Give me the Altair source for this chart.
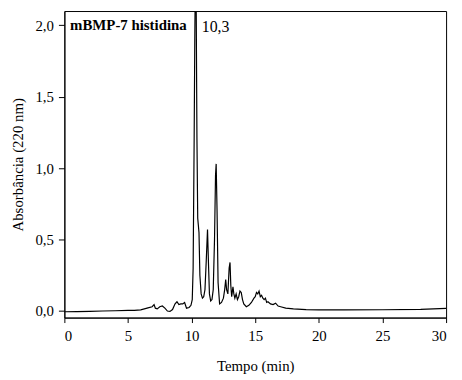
import altair as alt
import pandas as pd

# Retention time (min) and absorbance (220 nm)
tempo = [0, 1, 2, 3, 4, 5, 5.5, 6, 6.5, 6.9, 7.05, 7.15, 7.3, 7.5, 7.7, 7.9, 8.1, 8.3, 8.5,
         8.7, 8.85, 9.0, 9.15, 9.3, 9.45, 9.6, 9.8, 9.95, 10.05, 10.12, 10.2, 10.25, 10.3,
         10.35, 10.42, 10.48, 10.53, 10.58, 10.65, 10.75, 10.85, 10.95, 11.05, 11.15, 11.25,
         11.32, 11.4, 11.5, 11.6, 11.7, 11.8, 11.88, 11.93, 12.0, 12.08, 12.2, 12.35, 12.5,
         12.6, 12.68, 12.75, 12.85, 12.95, 13.02, 13.08, 13.15, 13.25, 13.32, 13.4, 13.5,
         13.6, 13.7, 13.8, 13.9, 14.0, 14.1, 14.3, 14.5, 14.7, 14.9, 15.0, 15.1, 15.2, 15.3,
         15.4, 15.5, 15.6, 15.7, 15.8, 15.9, 16.0, 16.2, 16.4, 16.6, 16.8, 17.0, 17.4, 18,
         19, 20, 22, 25, 28, 30]
absorbancia = [-0.005, -0.004, -0.002, 0.0, 0.002, 0.004, 0.005, 0.008, 0.02, 0.03, 0.045,
               0.02, 0.015, 0.03, 0.035, 0.02, 0.0, -0.003, 0.01, 0.05, 0.065, 0.045, 0.05,
               0.05, 0.06, 0.02, 0.025, 0.04, 0.08, 0.3, 1.2, 1.9, 2.4, 2.3, 1.2, 0.65, 0.6,
               0.55, 0.25, 0.12, 0.09, 0.1, 0.15, 0.35, 0.57, 0.35, 0.12, 0.07, 0.08, 0.15,
               0.5, 0.95, 1.03, 0.7, 0.2, 0.05, 0.06, 0.09, 0.15, 0.22, 0.15, 0.12, 0.3, 0.34,
               0.18, 0.1, 0.17, 0.12, 0.09, 0.12, 0.08, 0.1, 0.14, 0.13, 0.08, 0.05, 0.03,
               0.04, 0.06, 0.09, 0.1, 0.13, 0.12, 0.14, 0.1, 0.11, 0.09, 0.08, 0.09, 0.06,
               0.065, 0.05, 0.045, 0.055, 0.035, 0.03, 0.02, 0.015, 0.01, 0.008, 0.008, 0.009,
               0.012, 0.018]

x_ticks = [0, 2.5, 5, 7.5, 10, 12.5, 15, 17.5, 20, 22.5, 25, 27.5, 30]
y_ticks = [0, 0.25, 0.5, 0.75, 1.0, 1.25, 1.5, 1.75, 2.0]

label_text = ["mBMP-7 histidina"]
label_x = [0.45]
label_y = [2.0]
peak_text = ["10,3"]
peak_x = [10.8]
peak_y = [1.99]

FONT = "Liberation Serif"

df = pd.DataFrame({"tempo": tempo, "abs": absorbancia})
df_label = pd.DataFrame({"t": label_text, "x": label_x, "y": label_y})
df_peak = pd.DataFrame({"t": peak_text, "x": peak_x, "y": peak_y})

xscale = alt.Scale(domain=[0, 30], nice=False, zero=False)
yscale = alt.Scale(domain=[-0.046, 2.1], nice=False, zero=False)

x_axis = alt.Axis(
    title="Tempo (min)", values=x_ticks,
    labelExpr="datum.value % 5 == 0 ? format(datum.value, 'd') : ''",
    tickSize=alt.condition("datum.value % 5 == 0", alt.value(5), alt.value(3)),
    labelPadding=6, titlePadding=16, grid=False,
)
y_axis = alt.Axis(
    title="Absorbância (220 nm)", values=y_ticks,
    labelExpr="(datum.value * 2) % 1 == 0 ? replace(format(datum.value, '.1f'), '.', ',') : ''",
    tickSize=alt.condition("(datum.value * 2) % 1 == 0", alt.value(6), alt.value(3)),
    labelPadding=5, titlePadding=10, grid=False,
)

line = alt.Chart(df).mark_line(color="black", strokeWidth=1.2, clip=True).encode(
    x=alt.X("tempo:Q", scale=xscale, axis=x_axis),
    y=alt.Y("abs:Q", scale=yscale, axis=y_axis),
)

label = alt.Chart(df_label).mark_text(
    align="left", baseline="middle", font=FONT, fontSize=15, fontWeight="bold", color="black"
).encode(x=alt.X("x:Q", scale=xscale), y=alt.Y("y:Q", scale=yscale), text="t:N")

peak = alt.Chart(df_peak).mark_text(
    align="left", baseline="middle", font=FONT, fontSize=16, color="black"
).encode(x=alt.X("x:Q", scale=xscale), y=alt.Y("y:Q", scale=yscale), text="t:N")

chart = alt.layer(line, label, peak).properties(
    width=386, height=310,
    autosize=alt.AutoSizeParams(type="none"),
    padding={"left": 57, "top": 1, "right": 8, "bottom": 58},
).configure_view(
    stroke="black", strokeWidth=1
).configure_axis(
    domainColor="black", tickColor="black", labelColor="black", titleColor="black",
    labelFont=FONT, titleFont=FONT, labelFontSize=15, titleFontSize=15,
    titleFontWeight="normal", domainWidth=1, tickWidth=1,
)

chart.save("out.html", embed_options={"renderer": "svg", "actions": False})
